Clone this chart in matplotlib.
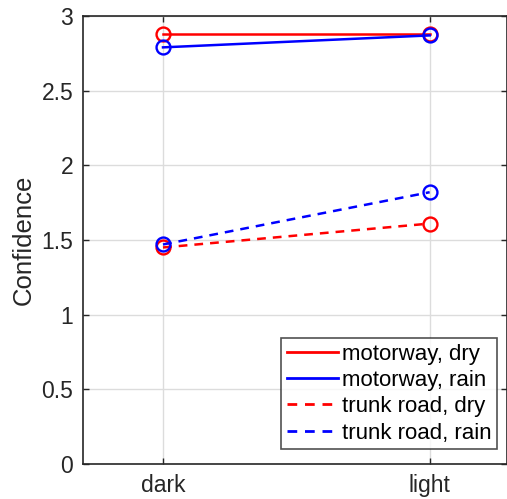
import matplotlib
matplotlib.use("Agg")
import matplotlib.pyplot as plt

conditions = ["dark", "light"]
motorway_dry = [2.88, 2.88]
motorway_rain = [2.79, 2.87]
trunk_dry = [1.45, 1.61]
trunk_rain = [1.47, 1.82]
y_ticks = [0, 0.5, 1, 1.5, 2, 2.5, 3]
y_tick_labels = ["0", "0.5", "1", "1.5", "2", "2.5", "3"]

plt.rcParams["font.family"] = ["Liberation Sans", "DejaVu Sans"]

fig = plt.figure(figsize=(5.07, 4.99), dpi=100)
W, H = 507, 499
ax = fig.add_axes([83 / W, 1 - 464 / H, (507 - 83) / W, (464 - 16) / H])

x = list(range(1, len(conditions) + 1))
series = [
    (motorway_dry, "#ff0000", "-", "motorway, dry"),
    (motorway_rain, "#0000ff", "-", "motorway, rain"),
    (trunk_dry, "#ff0000", "--", "trunk road, dry"),
    (trunk_rain, "#0000ff", "--", "trunk road, rain"),
]
for vals, col, ls, lab in series:
    ax.plot(x, vals, color=col, linestyle=ls, linewidth=1.8, marker="o",
            markersize=10, markerfacecolor="none", markeredgewidth=1.7,
            label=lab, dashes=(3.5, 2.8) if ls == "--" else (None, None))

ax.set_xlim(0.7, 2.29)
ax.set_ylim(0, 3)
ax.set_xticks(x)
ax.set_xticklabels(conditions)
ax.set_yticks(y_ticks)
ax.set_yticklabels(y_tick_labels)
ax.set_ylabel("Confidence", fontsize=18.5, color="#262626", labelpad=4)
ax.tick_params(direction="in", length=4, width=1, labelsize=16.5,
               colors="#262626", top=True, right=True, pad=7)
ax.grid(True, color="#dcdcdc", linewidth=1)
ax.set_axisbelow(True)
for s in ax.spines.values():
    s.set_color("#262626")
    s.set_linewidth(1.2)

leg = ax.legend(loc="upper left", bbox_to_anchor=(281 / W, 1 - 338 / H),
                bbox_transform=fig.transFigure, borderaxespad=0,
                fontsize=16, frameon=True, fancybox=False,
                edgecolor="#262626", handlelength=2.3, handletextpad=0.2,
                borderpad=0.25, labelspacing=0.24)
leg.get_frame().set_linewidth(1.2)
for h in leg.get_lines():
    h.set_marker("")
    h.set_linewidth(2)

fig.savefig("out.png", dpi=100)
